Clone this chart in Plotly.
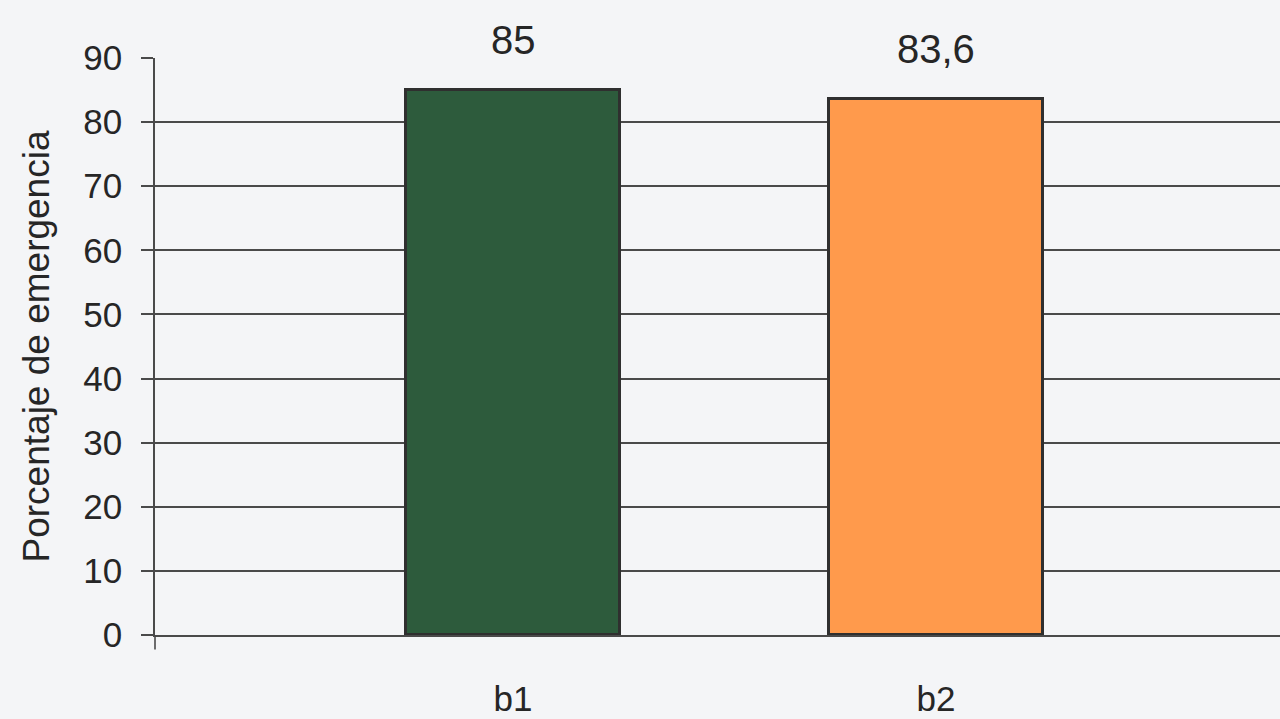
import plotly.graph_objects as go

# Emergence percentage per treatment
categories = ["b1", "b2"]
emergence = [85, 83.6]
bar_colors = ["#2d5b3c", "#ff9a4c"]
y_ticks = [0, 10, 20, 30, 40, 50, 60, 70, 80, 90]

FONT = "Liberation Sans, Arial, sans-serif"
INK = "#262626"
GRID = "#4a4a4a"

fig = go.Figure()
fig.add_trace(go.Bar(
    x=[0, 1],
    y=emergence,
    width=0.504,
    marker=dict(color=bar_colors, line=dict(color="#2f2f2f", width=3)),
    hoverinfo="skip",
    showlegend=False,
))

# value labels above each bar, decimal comma
for i, v in enumerate(emergence):
    fig.add_annotation(
        x=i, y=v, xref="x", yref="y",
        text=f"{v:g}".replace(".", ","),
        showarrow=False, yanchor="bottom", yshift=26,
        font=dict(family=FONT, size=40, color=INK),
    )

# short tick below the origin of the category axis
fig.add_shape(
    type="line", xref="paper", yref="paper",
    x0=0, x1=0, y0=0, y1=-0.025,
    line=dict(color=GRID, width=1.6),
)

fig.update_layout(
    width=1280, height=719,
    margin=dict(l=155, r=0, t=58, b=84),
    paper_bgcolor="#f4f5f7",
    plot_bgcolor="#f4f5f7",
    bargap=0,
)
fig.update_xaxes(
    range=[-0.8463, 1.813],
    tickmode="array", tickvals=[0, 1], ticktext=categories,
    ticks="", ticklabelstandoff=32, automargin=False,
    tickfont=dict(family=FONT, size=35, color=INK),
    showgrid=False, zeroline=False,
    showline=True, linecolor=GRID, linewidth=1.6,
)
fig.update_yaxes(
    range=[0, 90],
    tickmode="array", tickvals=y_ticks,
    ticks="outside", ticklen=12, tickcolor=GRID, tickwidth=1.6,
    ticklabelstandoff=12, automargin=False,
    tickfont=dict(family=FONT, size=35, color=INK),
    showgrid=True, gridcolor=GRID, gridwidth=1.6,
    zeroline=False,
    showline=True, linecolor=GRID, linewidth=1.6,
    title=dict(text="Porcentaje de emergencia", standoff=22,
               font=dict(family=FONT, size=37, color=INK)),
)

fig.write_html("out.html")
